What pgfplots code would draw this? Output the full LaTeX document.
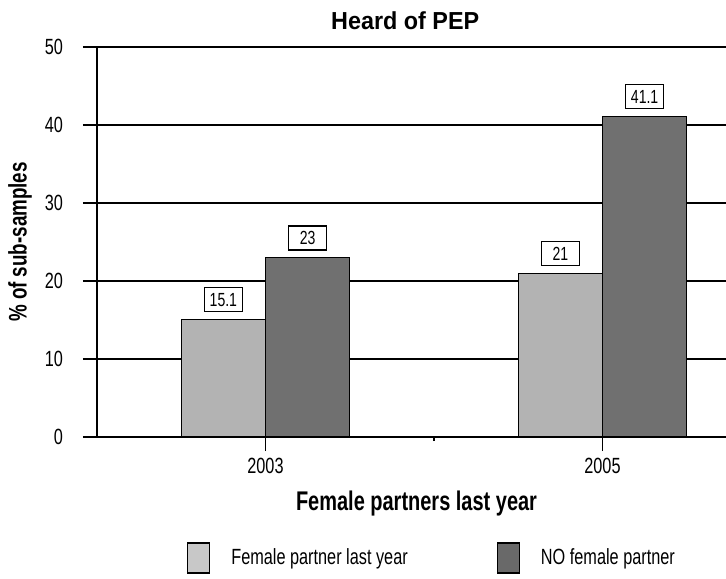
\documentclass[border=0pt]{standalone}
\usepackage{fontspec}
\setmainfont{Liberation Sans}[FakeStretch=0.74]
\newfontfamily\titlefont{Liberation Sans}[FakeStretch=0.95]
\usepackage{pgfplots}
\pgfplotsset{compat=1.18}

\definecolor{lightbar}{HTML}{B3B3B3}
\definecolor{darkbar}{HTML}{707070}
\definecolor{lightkey}{HTML}{C8C8C8}
\definecolor{darkkey}{HTML}{696969}

\begin{document}
\begin{tikzpicture}
\begin{axis}[
  scale only axis,
  width=314.5pt, height=195pt,
  xmin=-0.5, xmax=1.3665,
  ymin=0, ymax=50,
  axis x line*=bottom, axis y line*=left,
  axis line style={-, line width=0.9pt},
  ytick={0,10,...,50},
  xtick={0,1}, xticklabels={2003,2005},
  extra x ticks={0.5}, extra x tick labels={},
  extra x tick style={major tick length=2pt},
  tick align=outside,
  major tick length=7pt,
  tick style={line width=0.9pt, black},
  ymajorgrids,
  grid style={line width=0.8pt, black},
  /pgf/number format/assume math mode=true,
  ticklabel style={font=\fontsize{11}{13}\selectfont},
  yticklabel style={xshift=-6.5pt},
  every axis title shift=0pt,
  title={Heard of PEP},
  title style={font=\titlefont\bfseries\fontsize{12.3}{14}\selectfont,
    at={(0.49,1.0436)}, anchor=base},
  xlabel={Female partners last year},
  xlabel style={font=\bfseries\fontsize{13.5}{15}\selectfont,
    at={(0.508,-0.1872)}, anchor=base},
  ylabel={\% of sub-samples},
  ylabel style={font=\bfseries\fontsize{12.7}{14}\selectfont,
    at={(-0.1224,0.5)}, anchor=center},
  nodes near coords style={draw=black, fill=white, text=black,
    line width=0.6pt, font=\fontsize{9.5}{11}\selectfont,
    minimum width=19pt, minimum height=12pt, inner sep=1pt,
    anchor=south, yshift=3.5pt},
  legend image code/.code={\draw[#1] (0pt,-7.5pt) rectangle (11pt,7.5pt);},
  legend style={draw=none, fill=none, legend columns=2,
    at={(0.5342,-0.310)}, anchor=center,
    font=\fontsize{11}{13}\selectfont,
    /tikz/every odd column/.append style={column sep=8.5pt},
    /tikz/every even column/.append style={column sep=42.5pt}},
  legend cell align=left,
]
% bars sit at the category centre -/+ half a bar width
\addplot[ybar, bar width=0.25, bar shift=0, fill=lightbar, draw=black,
  line width=0.6pt, forget plot, nodes near coords]
  coordinates {(-0.125,15.1) (0.875,21)};
\addplot[ybar, bar width=0.25, bar shift=0, fill=darkbar, draw=black,
  line width=0.6pt, forget plot, nodes near coords]
  coordinates {(0.125,23) (1.125,41.1)};
\addlegendimage{fill=lightkey, draw=black, line width=0.6pt}
\addlegendentry{Female partner last year}
\addlegendimage{fill=darkkey, draw=black, line width=0.6pt}
\addlegendentry{NO female partner}
\end{axis}
\pgfresetboundingbox
\path[use as bounding box] ([shift={(-48.5pt,-70.5pt)}]current axis.south west)
  rectangle ([shift={(0pt,23.5pt)}]current axis.north east);
\end{tikzpicture}
\end{document}
